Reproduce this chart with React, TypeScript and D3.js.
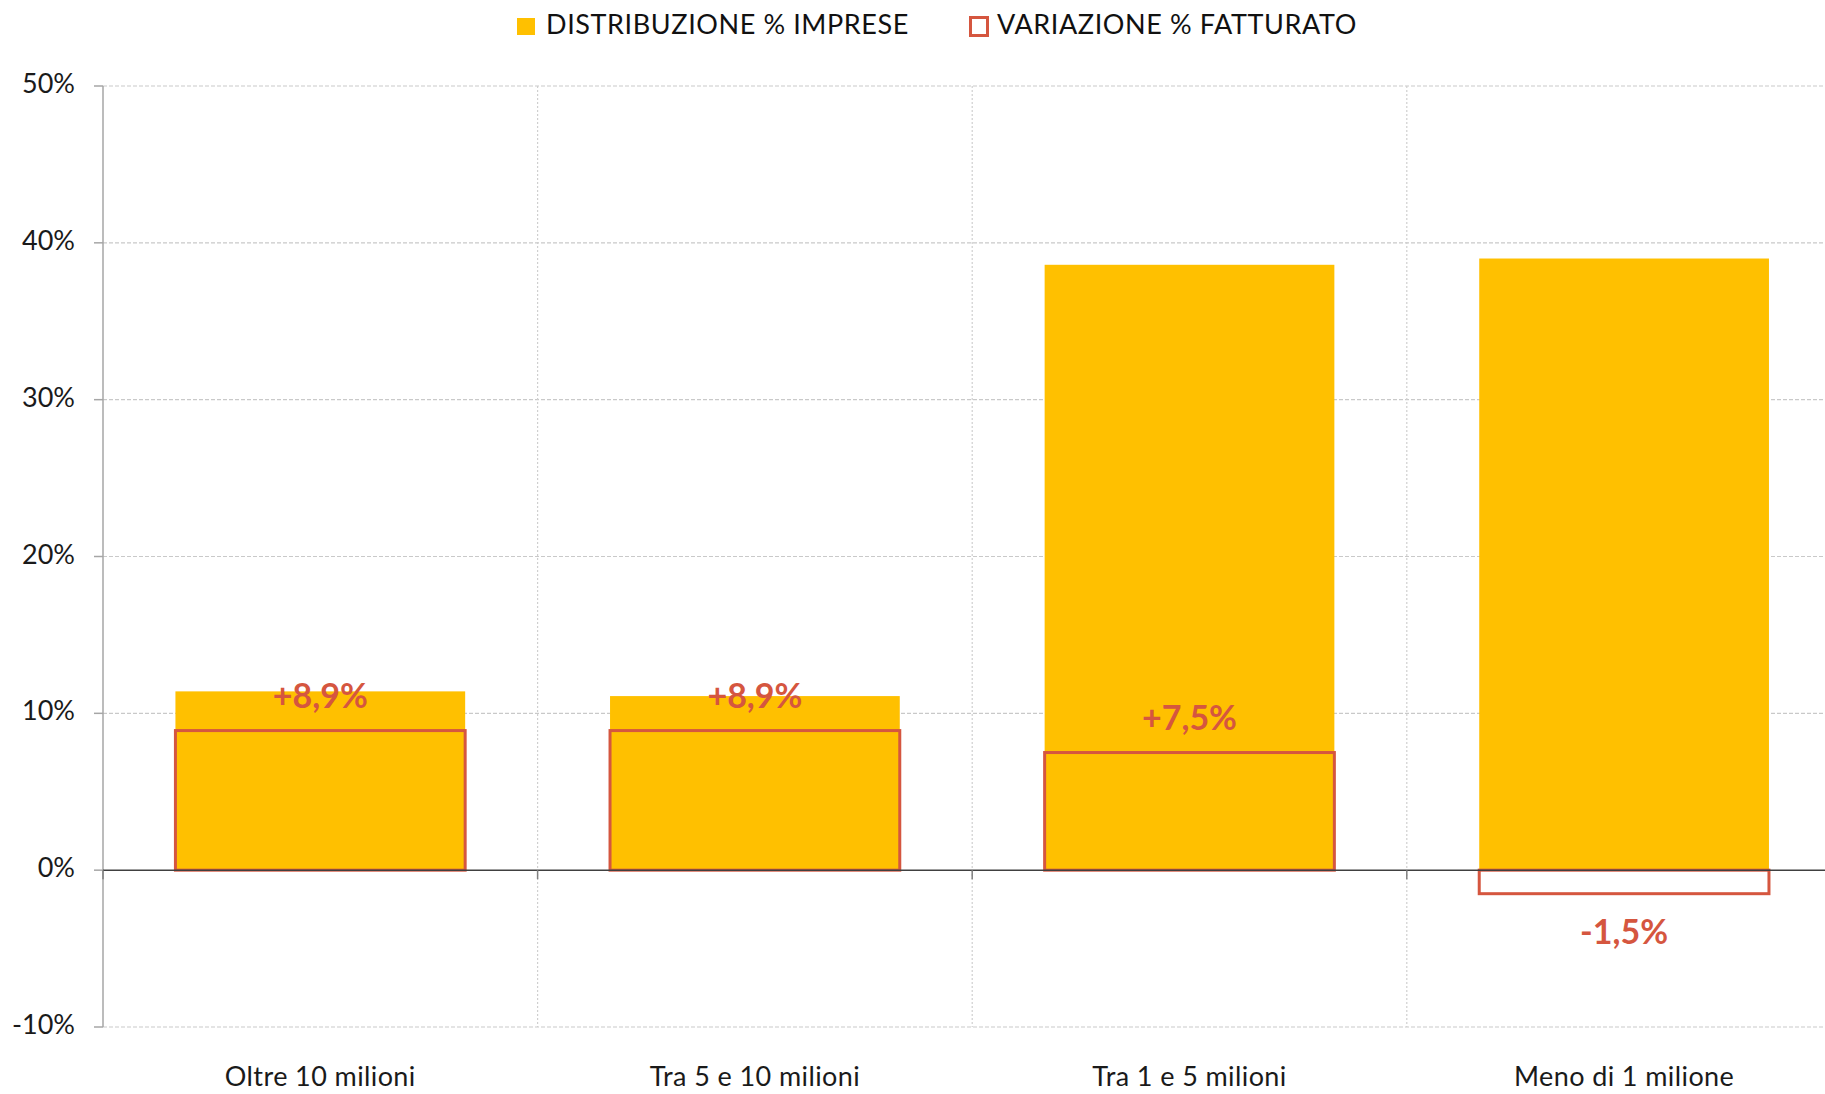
import React, { useEffect, useRef } from "react";
import * as d3 from "d3";

const categories = ["Oltre 10 milioni", "Tra 5 e 10 milioni", "Tra 1 e 5 milioni", "Meno di 1 milione"];
const distribuzione = [11.4, 11.1, 38.6, 39.0];
const variazione = [8.9, 8.9, 7.5, -1.5];
const yTicks = [-10, 0, 10, 20, 30, 40, 50];
const legendLabels = ["DISTRIBUZIONE % IMPRESE", "VARIAZIONE % FATTURATO"];

const width = 1825;
const height = 1094;
const YELLOW = "#FFC000";
const RED = "#D5563F";
const FONT = "Lato, 'Open Sans', sans-serif";

const App = () => {
  const ref = useRef<SVGSVGElement>(null);

  useEffect(() => {
    document.body.style.margin = "0";
    const svg = d3.select(ref.current);
    svg.selectAll("*").remove();

    const left = 103;
    const step = 434.6;
    const x = d3
      .scaleBand()
      .domain(categories)
      .range([left, left + step * categories.length])
      .paddingInner(1 / 3)
      .paddingOuter(1 / 6);

    const y = d3.scaleLinear().domain([-10, 50]).range([1027, 86]);

    const rows = categories.map((c, i) => ({ c, d: distribuzione[i], v: variazione[i] }));

    // horizontal gridlines (dashed), not at 0
    svg
      .append("g")
      .selectAll("line")
      .data(yTicks.filter((t) => t !== 0))
      .join("line")
      .attr("x1", left)
      .attr("x2", width)
      .attr("y1", (d) => y(d))
      .attr("y2", (d) => y(d))
      .attr("stroke", "#c9c9c9")
      .attr("stroke-width", 1.2)
      .attr("stroke-dasharray", "4,2");

    // vertical gridlines between categories
    const vb = categories.slice(1).map((_, i) => left + x.step() * (i + 1));
    svg
      .append("g")
      .selectAll("line")
      .data(vb)
      .join("line")
      .attr("x1", (d) => d)
      .attr("x2", (d) => d)
      .attr("y1", y(50))
      .attr("y2", y(-10))
      .attr("stroke", "#cfcfcf")
      .attr("stroke-width", 1.2)
      .attr("stroke-dasharray", "2,2");

    // yellow bars
    svg
      .append("g")
      .selectAll("rect")
      .data(rows)
      .join("rect")
      .attr("x", (d) => x(d.c)!)
      .attr("width", x.bandwidth())
      .attr("y", (d) => y(Math.max(0, d.d)))
      .attr("height", (d) => Math.abs(y(d.d) - y(0)))
      .attr("fill", YELLOW);

    // red outlined bars
    svg
      .append("g")
      .selectAll("rect")
      .data(rows)
      .join("rect")
      .attr("x", (d) => x(d.c)!)
      .attr("width", x.bandwidth())
      .attr("y", (d) => y(Math.max(0, d.v)))
      .attr("height", (d) => Math.abs(y(d.v) - y(0)))
      .attr("fill", "none")
      .attr("stroke", RED)
      .attr("stroke-width", 3);

    // y axis
    svg
      .append("line")
      .attr("x1", left)
      .attr("x2", left)
      .attr("y1", y(50))
      .attr("y2", y(-10))
      .attr("stroke", "#a6a6a6")
      .attr("stroke-width", 1.5);

    svg
      .append("g")
      .selectAll("line")
      .data(yTicks)
      .join("line")
      .attr("x1", left - 9)
      .attr("x2", left)
      .attr("y1", (d) => y(d))
      .attr("y2", (d) => y(d))
      .attr("stroke", "#a6a6a6")
      .attr("stroke-width", 1.5);

    svg
      .append("g")
      .attr("font-family", FONT)
      .attr("font-size", 27)
      .attr("text-anchor", "end")
      .attr("fill", "#1a1a1a")
      .selectAll("text")
      .data(yTicks)
      .join("text")
      .attr("x", 75)
      .attr("y", (d) => y(d) + 7)
      .text((d) => `${d}%`);

    // zero line
    svg
      .append("line")
      .attr("x1", left)
      .attr("x2", width)
      .attr("y1", y(0))
      .attr("y2", y(0))
      .attr("stroke", "#404040")
      .attr("stroke-width", 1.5);

    svg
      .append("g")
      .selectAll("line")
      .data([left, ...vb])
      .join("line")
      .attr("x1", (d) => d)
      .attr("x2", (d) => d)
      .attr("y1", y(0))
      .attr("y2", y(0) + 9)
      .attr("stroke", "#808080")
      .attr("stroke-width", 1.5);

    // category labels
    svg
      .append("g")
      .attr("font-family", FONT)
      .attr("font-size", 27)
      .attr("letter-spacing", 0.4)
      .attr("text-anchor", "middle")
      .attr("fill", "#1a1a1a")
      .selectAll("text")
      .data(categories)
      .join("text")
      .attr("x", (d) => x(d)! + x.bandwidth() / 2)
      .attr("y", 1086)
      .text((d) => d);

    // value labels
    const fmt = (v: number) => (v > 0 ? "+" : "") + v.toFixed(1).replace(".", ",") + "%";
    svg
      .append("g")
      .attr("font-family", FONT)
      .attr("font-size", 34)
      .attr("font-weight", "bold")
      .attr("text-anchor", "middle")
      .attr("fill", RED)
      .selectAll("text")
      .data(rows)
      .join("text")
      .attr("x", (d) => x(d.c)! + x.bandwidth() / 2)
      .attr("y", (d) => (d.v >= 0 ? y(d.v) - 23 : y(d.v) + 50))
      .text((d) => fmt(d.v));

    // legend
    const legend = svg
      .append("g")
      .attr("font-family", FONT)
      .attr("font-size", 27)
      .attr("letter-spacing", 0.6)
      .attr("fill", "#111");
    legend.append("rect").attr("x", 517).attr("y", 18).attr("width", 18).attr("height", 17).attr("fill", YELLOW);
    legend.append("text").attr("x", 546).attr("y", 34).text(legendLabels[0]);
    legend
      .append("rect")
      .attr("x", 970.5)
      .attr("y", 17.5)
      .attr("width", 17)
      .attr("height", 18)
      .attr("fill", "none")
      .attr("stroke", RED)
      .attr("stroke-width", 3);
    legend.append("text").attr("x", 997).attr("y", 34).text(legendLabels[1]);
  }, []);

  return <svg ref={ref} width={width} height={height} style={{ display: "block" }}></svg>;
};

export default App;
